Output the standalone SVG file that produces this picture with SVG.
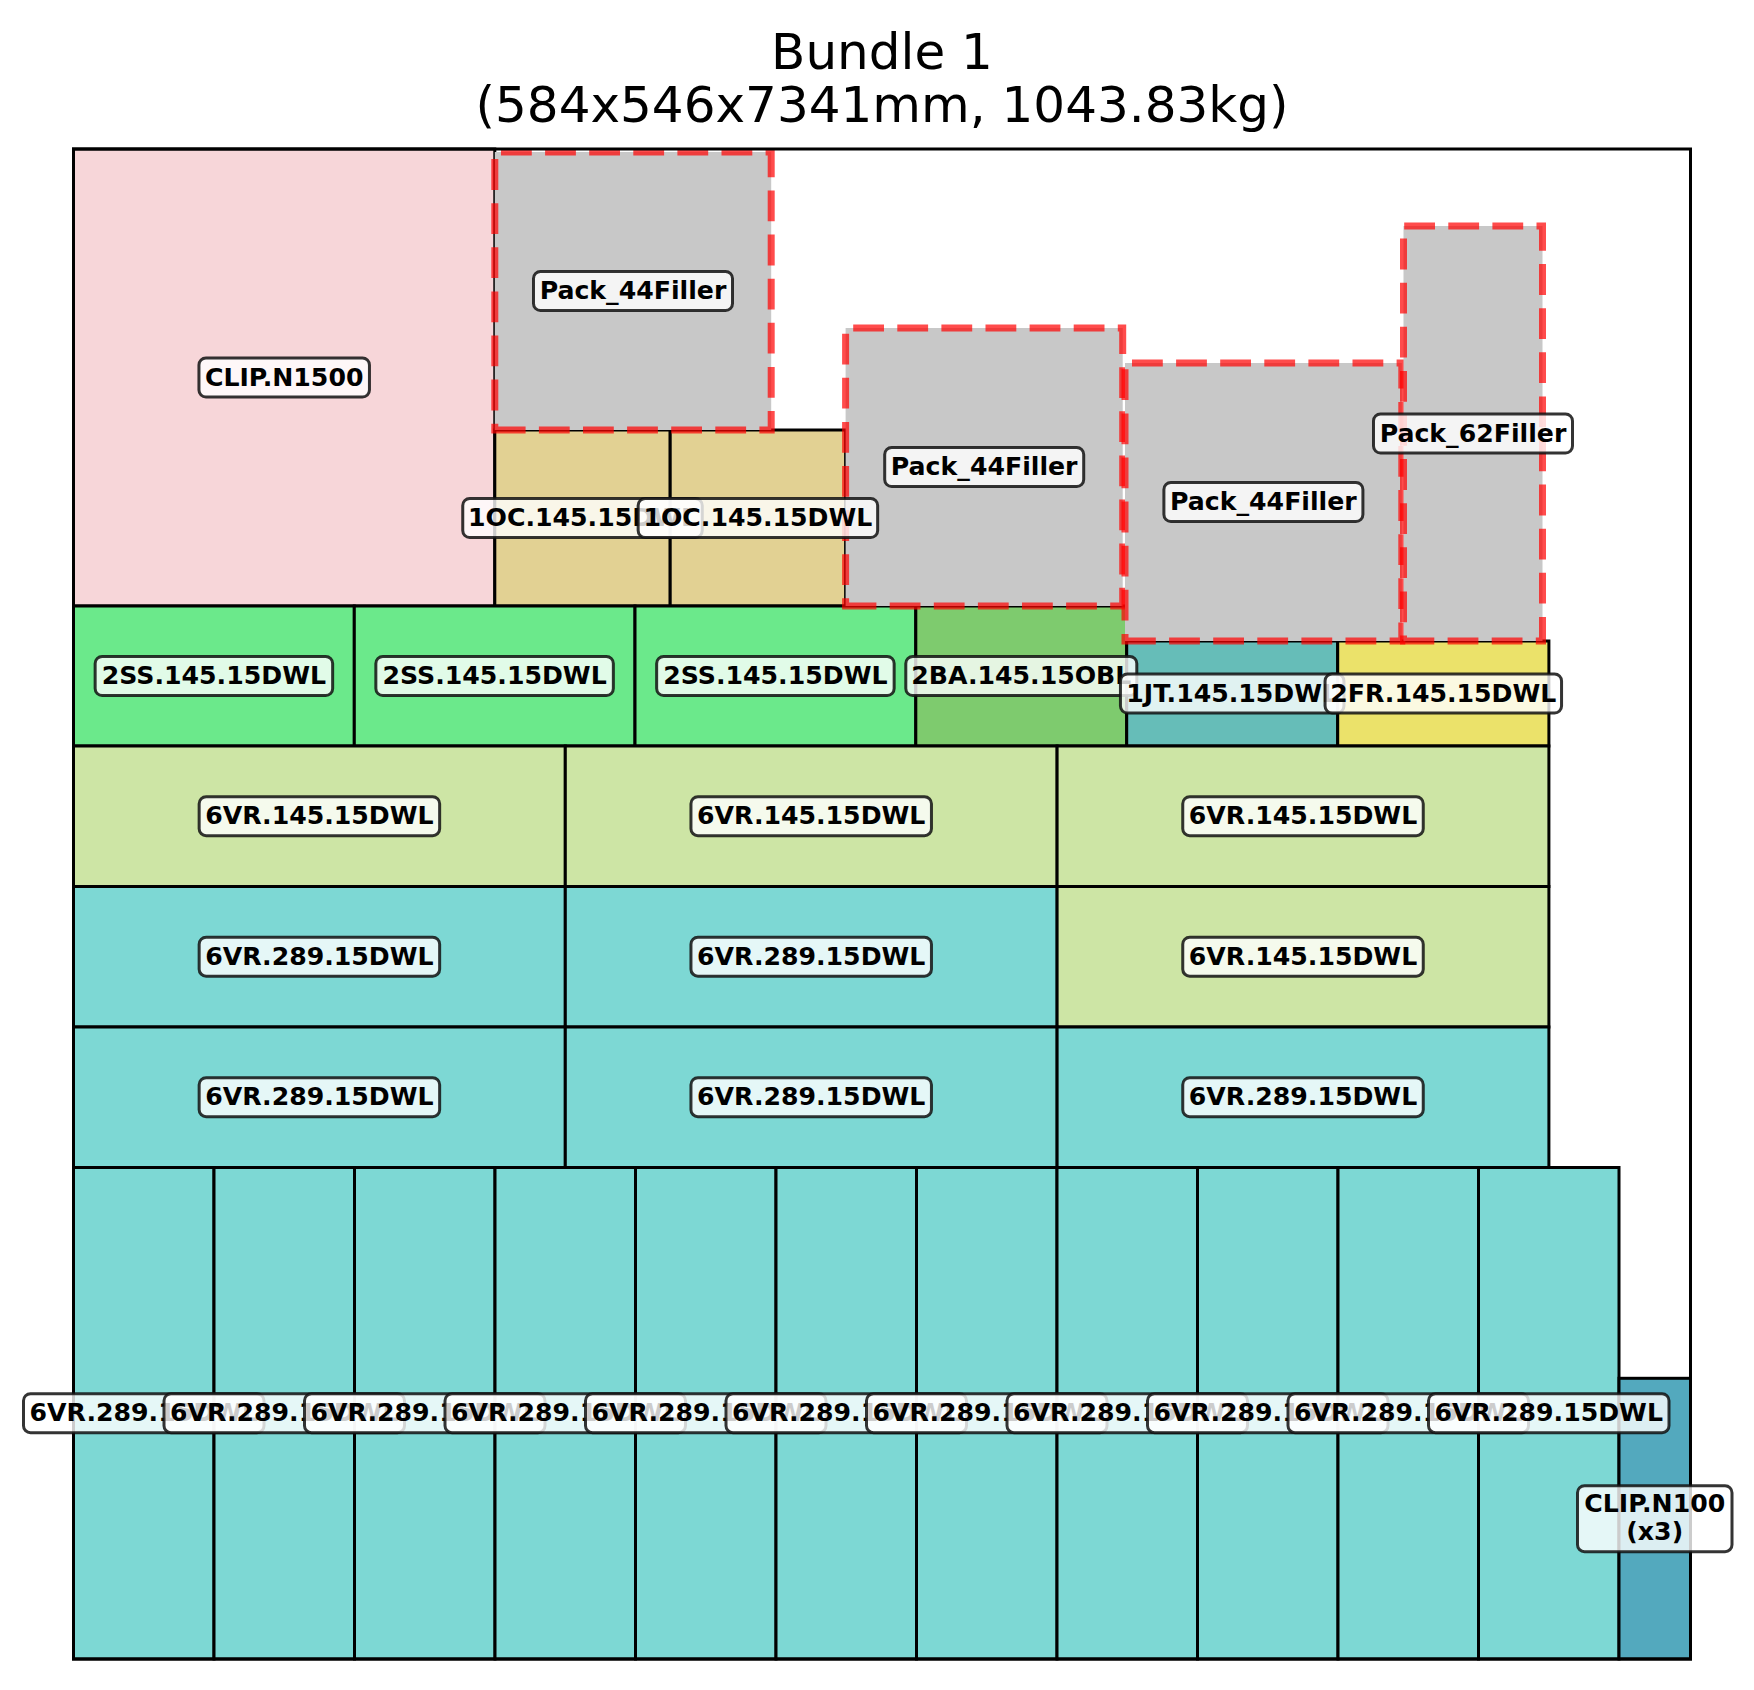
<svg xmlns="http://www.w3.org/2000/svg" width="1754" height="1690" viewBox="0 0 1754 1690">
<style>
.box{stroke:#000;stroke-width:3}
.fill{fill:#C8C8C8;stroke:none}
.dash{fill:none;stroke:#FF0000;stroke-opacity:0.7;stroke-width:7;stroke-dasharray:30.8 13.3}
.lb rect{fill:#fff;fill-opacity:0.8;stroke:#111;stroke-opacity:0.85;stroke-width:3}
.lb text{font-family:"DejaVu Sans","Liberation Sans",sans-serif;font-weight:bold;font-size:25.2px;text-anchor:middle;fill:#000}
.title{font-family:"DejaVu Sans","Liberation Sans",sans-serif;font-size:50px;text-anchor:middle;fill:#000}
.pink{fill:#F7D6D9}.oc{fill:#E2D193}.ss{fill:#6BE98B}.ba{fill:#7ECB6E}.jt{fill:#66BDB8}.fr{fill:#EBE26A}.v145{fill:#CDE5A5}.v289{fill:#7DD8D4}.n100{fill:#53A9BE}
</style>
<rect width="1754" height="1690" fill="#fff"/>
<g id="title">
<text class="title" x="882" y="68.5">Bundle 1</text>
<text class="title" x="882" y="122">(584x546x7341mm, 1043.83kg)</text>
</g>
<g id="nodes">
<g id="n-clip1500"><rect class="box pink" x="73.5" y="149" width="421.3" height="457"/></g>
<g id="n-1oc-1"><rect class="box oc" x="494.8" y="430" width="175.4" height="176"/></g>
<g id="n-1oc-2"><rect class="box oc" x="670.2" y="430" width="175.4" height="176"/></g>
<g id="n-2ss-1"><rect class="box ss" x="73.5" y="606" width="280.8" height="140"/></g>
<g id="n-2ss-2"><rect class="box ss" x="354.3" y="606" width="280.7" height="140"/></g>
<g id="n-2ss-3"><rect class="box ss" x="635" y="606" width="280.8" height="140"/></g>
<g id="n-2ba"><rect class="box ba" x="915.8" y="606" width="210.9" height="140"/></g>
<g id="n-1jt"><rect class="box jt" x="1126.7" y="641" width="211" height="105"/></g>
<g id="n-2fr"><rect class="box fr" x="1337.7" y="641" width="211.2" height="105"/></g>
<g id="n-6vr-c1"><rect class="box v145" x="73.5" y="746" width="491.8" height="140.5"/></g>
<g id="n-6vr-c2"><rect class="box v145" x="565.3" y="746" width="491.8" height="140.5"/></g>
<g id="n-6vr-c3"><rect class="box v145" x="1057.1" y="746" width="491.8" height="140.5"/></g>
<g id="n-6vr-b1"><rect class="box v289" x="73.5" y="886.5" width="491.8" height="140.5"/></g>
<g id="n-6vr-b2"><rect class="box v289" x="565.3" y="886.5" width="491.8" height="140.5"/></g>
<g id="n-6vr-b3"><rect class="box v145" x="1057.1" y="886.5" width="491.8" height="140.5"/></g>
<g id="n-6vr-a1"><rect class="box v289" x="73.5" y="1027" width="491.8" height="140.5"/></g>
<g id="n-6vr-a2"><rect class="box v289" x="565.3" y="1027" width="491.8" height="140.5"/></g>
<g id="n-6vr-a3"><rect class="box v289" x="1057.1" y="1027" width="491.8" height="140.5"/></g>
<g id="n-6vr-v1"><rect class="box v289" x="73.5" y="1167.5" width="140.5" height="491.5"/></g>
<g id="n-6vr-v2"><rect class="box v289" x="214" y="1167.5" width="140.5" height="491.5"/></g>
<g id="n-6vr-v3"><rect class="box v289" x="354.5" y="1167.5" width="140.5" height="491.5"/></g>
<g id="n-6vr-v4"><rect class="box v289" x="495" y="1167.5" width="140.5" height="491.5"/></g>
<g id="n-6vr-v5"><rect class="box v289" x="635.5" y="1167.5" width="140.5" height="491.5"/></g>
<g id="n-6vr-v6"><rect class="box v289" x="776" y="1167.5" width="140.5" height="491.5"/></g>
<g id="n-6vr-v7"><rect class="box v289" x="916.5" y="1167.5" width="140.5" height="491.5"/></g>
<g id="n-6vr-v8"><rect class="box v289" x="1057" y="1167.5" width="140.5" height="491.5"/></g>
<g id="n-6vr-v9"><rect class="box v289" x="1197.5" y="1167.5" width="140.5" height="491.5"/></g>
<g id="n-6vr-v10"><rect class="box v289" x="1338" y="1167.5" width="140.5" height="491.5"/></g>
<g id="n-6vr-v11"><rect class="box v289" x="1478.5" y="1167.5" width="140.5" height="491.5"/></g>
<g id="n-clip100"><rect class="box n100" x="1619" y="1378.3" width="71.5" height="280.7"/></g>
<g id="n-filler-1"><rect class="fill" x="494.8" y="152" width="276.4" height="278"/><path class="dash" d="M494.8,430 H771.2 V152 H494.8 Z"/></g>
<g id="n-filler-2"><rect class="fill" x="845.6" y="328" width="277.1" height="278"/><path class="dash" d="M845.6,606 H1122.7 V328 H845.6 Z"/></g>
<g id="n-filler-3"><rect class="fill" x="1125" y="363" width="276.8" height="278"/><path class="dash" d="M1125,641 H1401.8 V363 H1125 Z"/></g>
<g id="n-filler-62"><rect class="fill" x="1403.5" y="226" width="139" height="415"/><path class="dash" d="M1403.5,641 H1542.5 V226 H1403.5 Z"/></g>
</g>
<g id="frame"><rect x="73.5" y="149" width="1617" height="1510" fill="none" stroke="#000" stroke-width="3"/></g>
<g id="connectors"/>
<g id="labels">
<g id="l-clip1500" class="lb"><rect x="198.95" y="358" width="170.5" height="39" rx="7"/><text x="284.2" y="385.5">CLIP.N1500</text></g>
<g id="l-filler-1" class="lb"><rect x="533.5" y="271.5" width="199" height="39" rx="7"/><text x="633" y="299">Pack_44Filler</text></g>
<g id="l-1oc-1" class="lb"><rect x="462.75" y="498.5" width="239.5" height="39" rx="7"/><text x="582.5" y="526">1OC.145.15DWL</text></g>
<g id="l-1oc-2" class="lb"><rect x="638.15" y="498.5" width="239.5" height="39" rx="7"/><text x="757.9" y="526">1OC.145.15DWL</text></g>
<g id="l-filler-2" class="lb"><rect x="884.7" y="447.5" width="199" height="39" rx="7"/><text x="984.2" y="475">Pack_44Filler</text></g>
<g id="l-filler-3" class="lb"><rect x="1163.9" y="482.5" width="199" height="39" rx="7"/><text x="1263.4" y="510">Pack_44Filler</text></g>
<g id="l-filler-62" class="lb"><rect x="1373.5" y="414" width="199" height="39" rx="7"/><text x="1473" y="441.5">Pack_62Filler</text></g>
<g id="l-2ss-1" class="lb"><rect x="95.15" y="656.5" width="237.5" height="39" rx="7"/><text x="213.9" y="684">2SS.145.15DWL</text></g>
<g id="l-2ss-2" class="lb"><rect x="375.85" y="656.5" width="237.5" height="39" rx="7"/><text x="494.6" y="684">2SS.145.15DWL</text></g>
<g id="l-2ss-3" class="lb"><rect x="656.65" y="656.5" width="237.5" height="39" rx="7"/><text x="775.4" y="684">2SS.145.15DWL</text></g>
<g id="l-2ba" class="lb"><rect x="905.8" y="656.5" width="231" height="39" rx="7"/><text x="1021.3" y="684">2BA.145.15OBL</text></g>
<g id="l-1jt" class="lb"><rect x="1120.45" y="674" width="223.5" height="39" rx="7"/><text x="1232.2" y="701.5">1JT.145.15DWL</text></g>
<g id="l-2fr" class="lb"><rect x="1325.05" y="674" width="236.5" height="39" rx="7"/><text x="1443.3" y="701.5">2FR.145.15DWL</text></g>
<g id="l-6vr-c1" class="lb"><rect x="199.15" y="796.7" width="240.5" height="39" rx="7"/><text x="319.4" y="824.2">6VR.145.15DWL</text></g>
<g id="l-6vr-c2" class="lb"><rect x="690.95" y="796.7" width="240.5" height="39" rx="7"/><text x="811.2" y="824.2">6VR.145.15DWL</text></g>
<g id="l-6vr-c3" class="lb"><rect x="1182.75" y="796.7" width="240.5" height="39" rx="7"/><text x="1303" y="824.2">6VR.145.15DWL</text></g>
<g id="l-6vr-b1" class="lb"><rect x="199.15" y="937.2" width="240.5" height="39" rx="7"/><text x="319.4" y="964.7">6VR.289.15DWL</text></g>
<g id="l-6vr-b2" class="lb"><rect x="690.95" y="937.2" width="240.5" height="39" rx="7"/><text x="811.2" y="964.7">6VR.289.15DWL</text></g>
<g id="l-6vr-b3" class="lb"><rect x="1182.75" y="937.2" width="240.5" height="39" rx="7"/><text x="1303" y="964.7">6VR.145.15DWL</text></g>
<g id="l-6vr-a1" class="lb"><rect x="199.15" y="1077.7" width="240.5" height="39" rx="7"/><text x="319.4" y="1105.2">6VR.289.15DWL</text></g>
<g id="l-6vr-a2" class="lb"><rect x="690.95" y="1077.7" width="240.5" height="39" rx="7"/><text x="811.2" y="1105.2">6VR.289.15DWL</text></g>
<g id="l-6vr-a3" class="lb"><rect x="1182.75" y="1077.7" width="240.5" height="39" rx="7"/><text x="1303" y="1105.2">6VR.289.15DWL</text></g>
<g id="l-6vr-v1" class="lb"><rect x="23.5" y="1393.7" width="240.5" height="39" rx="7"/><text x="143.75" y="1421.2">6VR.289.15DWL</text></g>
<g id="l-6vr-v2" class="lb"><rect x="164" y="1393.7" width="240.5" height="39" rx="7"/><text x="284.25" y="1421.2">6VR.289.15DWL</text></g>
<g id="l-6vr-v3" class="lb"><rect x="304.5" y="1393.7" width="240.5" height="39" rx="7"/><text x="424.75" y="1421.2">6VR.289.15DWL</text></g>
<g id="l-6vr-v4" class="lb"><rect x="445" y="1393.7" width="240.5" height="39" rx="7"/><text x="565.25" y="1421.2">6VR.289.15DWL</text></g>
<g id="l-6vr-v5" class="lb"><rect x="585.5" y="1393.7" width="240.5" height="39" rx="7"/><text x="705.75" y="1421.2">6VR.289.15DWL</text></g>
<g id="l-6vr-v6" class="lb"><rect x="726" y="1393.7" width="240.5" height="39" rx="7"/><text x="846.25" y="1421.2">6VR.289.15DWL</text></g>
<g id="l-6vr-v7" class="lb"><rect x="866.5" y="1393.7" width="240.5" height="39" rx="7"/><text x="986.75" y="1421.2">6VR.289.15DWL</text></g>
<g id="l-6vr-v8" class="lb"><rect x="1007" y="1393.7" width="240.5" height="39" rx="7"/><text x="1127.25" y="1421.2">6VR.289.15DWL</text></g>
<g id="l-6vr-v9" class="lb"><rect x="1147.5" y="1393.7" width="240.5" height="39" rx="7"/><text x="1267.75" y="1421.2">6VR.289.15DWL</text></g>
<g id="l-6vr-v10" class="lb"><rect x="1288" y="1393.7" width="240.5" height="39" rx="7"/><text x="1408.25" y="1421.2">6VR.289.15DWL</text></g>
<g id="l-6vr-v11" class="lb"><rect x="1428.5" y="1393.7" width="240.5" height="39" rx="7"/><text x="1548.75" y="1421.2">6VR.289.15DWL</text></g>
<g id="l-clip100" class="lb"><rect x="1577.5" y="1485.7" width="154.5" height="66" rx="7"/><text x="1654.75" y="1512">CLIP.N100</text><text x="1654.75" y="1540">(x3)</text></g>
</g>
</svg>
